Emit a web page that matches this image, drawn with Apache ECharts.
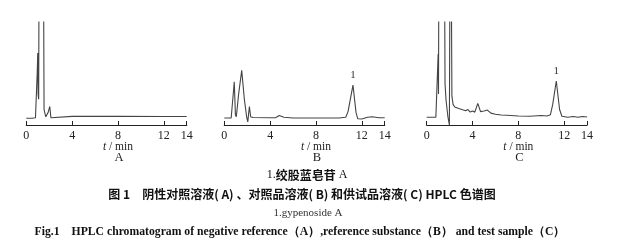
<!DOCTYPE html>
<html><head><meta charset="utf-8">
<script src="https://cdn.jsdelivr.net/npm/echarts@6/dist/echarts.min.js"></script>
<style>html,body{margin:0;padding:0;background:#fff}#c{width:624px;height:241px}</style>
</head><body><div id="c"></div>
<script>
// ---- data (time in min, detector response in relative units; >100 = off scale) ----
const tickValues = [0, 4, 8, 12, 14];
const panelLabels = ['A', 'B', 'C'];
const peakLabel = '1';
const peakTimeB = 11.23;
const peakTimeC = 11.31;

const seriesA = [[0,6.5],[0.5,6.5],[0.8,7],[0.95,50],[1.0,70],[1.03,30],[1.08,25],[1.15,300],[1.45,300],[1.55,15],[1.7,8],[1.78,6.5],[1.9,12],[2.05,18],[2.15,7],[2.3,8.4],[4,8.4],[8,8.4],[12,8.2],[14,8.2]];
const seriesB = [[0,6.8],[0.6,6.8],[0.75,8],[0.87,42],[0.97,10],[1.05,8],[1.25,30],[1.52,53],[1.75,25],[1.95,8],[2.05,3],[2.19,18],[2.3,8],[2.5,7.3],[4,7],[4.5,7.2],[4.8,9.2],[5.2,7.5],[6,6.8],[10,6.8],[10.6,7.5],[10.8,13],[11.23,38.8],[11.5,12],[11.65,6],[12,5.8],[12.5,7.5],[12.9,8],[13.5,7],[14,7]];
const seriesC = [[0,7.5],[0.8,7.5],[0.88,8],[1.0,69],[1.03,30],[1.1,300],[1.5,300],[1.6,40],[1.69,24],[1.85,8],[1.98,0],[2.08,300],[2.15,300],[2.2,28],[2.3,20],[2.45,17.5],[2.8,16],[3.2,14.5],[3.4,13.8],[3.6,15],[3.8,12.6],[4.0,13.5],[4.2,12.5],[4.46,21],[4.7,13],[5.0,13.6],[5.3,14.5],[5.6,11.5],[6.0,10.5],[6.5,9.7],[7,9.5],[8,8.7],[9,8.5],[10,9.2],[10.5,8.8],[10.8,10],[11.0,20],[11.31,42.7],[11.6,15],[11.8,8.5],[12.3,7.5],[12.8,8.2],[13.2,7.5],[13.6,8.3],[14,7.8]];

const captionCn1 = '绞股蓝皂苷';
const captionCn2 = '图 1　阴性对照溶液( A) 、对照品溶液( B) 和供试品溶液( C) HPLC 色谱图';
const captionEn1 = '1.gypenoside A';
const captionEn2 = 'Fig.1　HPLC chromatogram of negative reference（A）,reference substance（B） and test sample（C）';

// ---- chart ----
const serif = '"Liberation Serif", "DejaVu Serif", serif';
const cjk = '"Noto Sans CJK SC", sans-serif';
const gridLefts = [26.3, 224.3, 426.7];
const gridW = 160.4;
const allData = [seriesA, seriesB, seriesC];
const peakTimes = [null, peakTimeB, peakTimeC];

function peakMark(arr, pt) {
  if (pt === null) return undefined;
  const p = arr.find(q => q[0] === pt);
  return {
    silent: true, symbol: 'circle', symbolSize: 1,
    itemStyle: { color: 'rgba(0,0,0,0)' },
    label: { show: true, formatter: peakLabel, position: 'top', distance: 4,
      fontFamily: serif, fontSize: 11, color: '#333' },
    data: [{ coord: p }]
  };
}

const chart = echarts.init(document.getElementById('c'), null, { renderer: 'canvas' });
const option = {
  animation: false,
  grid: gridLefts.map(l => ({ left: l, width: gridW, top: 22, bottom: 116 })),
  xAxis: gridLefts.map((l, i) => ({
    type: 'value', gridIndex: i, min: 0, max: 14,
    axisLine: { show: true, onZero: false, lineStyle: { color: '#222', width: 1.2 } },
    axisTick: { show: true, inside: true, length: 4, customValues: tickValues, lineStyle: { color: '#222' } },
    axisLabel: { customValues: tickValues, margin: 5, fontFamily: serif, fontSize: 12, color: '#222' },
    splitLine: { show: false }
  })),
  yAxis: gridLefts.map((l, i) => ({ type: 'value', gridIndex: i, min: 0, max: 100, show: false })),
  series: allData.map((d, i) => ({
    type: 'line', xAxisIndex: i, yAxisIndex: i, data: d,
    symbol: 'none', clip: true, lineStyle: { color: '#444', width: 1.1 },
    markPoint: peakMark(d, peakTimes[i])
  }))
};
chart.setOption(option);

const graphics = [];
for (let i = 0; i < 3; i++) {
  const x8 = chart.convertToPixel({ xAxisIndex: i }, 8);
  graphics.push({ type: 'text', x: x8, y: 146.5, style: {
    text: '{i|t} / min', align: 'center', verticalAlign: 'middle',
    rich: { i: { fontStyle: 'italic', fontFamily: serif, fontSize: 11.5, fill: '#222' } },
    font: '11.5px ' + serif, fill: '#222' } });
  graphics.push({ type: 'text', x: x8 + 1, y: 158, style: {
    text: panelLabels[i], align: 'center', verticalAlign: 'middle', font: '12.5px ' + serif, fill: '#222' } });
}
graphics.push({ type: 'text', x: 307, y: 175, style: {
  text: '{s|1.}{c|' + captionCn1 + '}{s| A}', align: 'center', verticalAlign: 'middle',
  rich: { s: { fontFamily: serif, fontSize: 12, fill: '#111' },
          c: { fontFamily: cjk, fontWeight: 'bold', fontSize: 12, fill: '#111' } } } });
graphics.push({ type: 'text', x: 302, y: 194, style: {
  text: captionCn2, align: 'center', verticalAlign: 'middle',
  font: 'bold 12px ' + cjk, fill: '#111' } });
graphics.push({ type: 'text', x: 308, y: 213, style: {
  text: captionEn1, align: 'center', verticalAlign: 'middle', font: '11px ' + serif, fill: '#333' } });
graphics.push({ type: 'text', x: 300, y: 232, style: {
  text: captionEn2, align: 'center', verticalAlign: 'middle', font: 'bold 11.7px ' + serif, fill: '#111' } });
chart.setOption({ graphic: graphics });
</script></body></html>
